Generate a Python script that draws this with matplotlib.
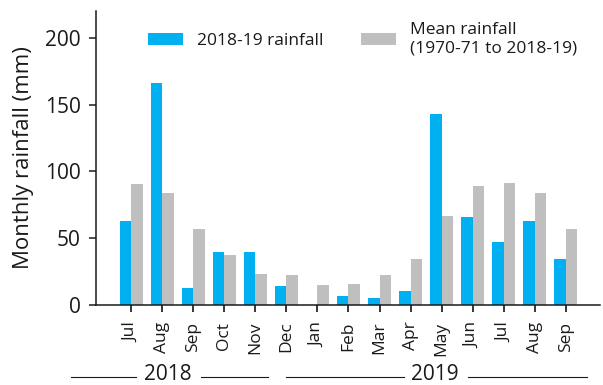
import matplotlib
matplotlib.use('Agg')
import matplotlib.pyplot as plt
import matplotlib.transforms as mtransforms
import numpy as np

plt.rcParams['font.family'] = ['Open Sans', 'DejaVu Sans']

months = ['Jul', 'Aug', 'Sep', 'Oct', 'Nov', 'Dec', 'Jan', 'Feb', 'Mar',
          'Apr', 'May', 'Jun', 'Jul', 'Aug', 'Sep']
rain_2018_19 = [62.5, 166, 12.5, 39.5, 39.5, 14.2, 0, 7, 5.5, 10.2,
                143, 65.5, 47.5, 63.2, 34.2]
rain_mean = [90.7, 83.7, 56.7, 37.7, 23.5, 22.7, 15, 15.7, 22.7, 34.7,
             66.5, 88.7, 91, 83.7, 56.7]
years = ['2018', '2019']

blue = '#00B0F0'
grey = '#BFBFBF'
ink = '#1a1a1a'

fig = plt.figure(figsize=(6.03, 3.85), dpi=100, facecolor='w')
ax = fig.add_axes([96/603, 1-305/385, 504/603, 294/385])

x = np.arange(len(months))
w = 0.37
ax.bar(x - w/2, rain_2018_19, width=w, color=blue, label='2018-19 rainfall')
ax.bar(x + w/2, rain_mean, width=w, color=grey, label='Mean rainfall\n(1970-71 to 2018-19)')

ax.set_xlim(-1.13, 15.1)
ax.set_ylim(0, 220)
ax.set_yticks([0, 50, 100, 150, 200])
ax.set_xticks(x)
ax.set_xticklabels(months, rotation=90, fontsize=12.5, color=ink)
ax.tick_params(axis='y', labelsize=15, colors=ink, width=1.1, length=5, pad=6)
ax.tick_params(axis='x', width=1.1, length=5, pad=7)
ax.set_ylabel('Monthly rainfall (mm)', fontsize=16, color=ink, labelpad=8)

for s in ['top', 'right']:
    ax.spines[s].set_visible(False)
for s in ['left', 'bottom']:
    ax.spines[s].set_linewidth(1.1)
    ax.spines[s].set_color(ink)

ax.legend(ncol=2, frameon=False, fontsize=12.5, loc='upper left',
          bbox_to_anchor=(148/603, 1-22/385), bbox_transform=fig.transFigure,
          handlelength=2.0, handleheight=0.69, handletextpad=0.8,
          columnspacing=2.2, borderpad=0, borderaxespad=0, labelcolor=ink)

# year labels under the month ticks
trans = mtransforms.blended_transform_factory(ax.transData, fig.transFigure)
ax.text(1.19, 1-375/385, years[0], transform=trans, ha='center', va='center',
        fontsize=15, color=ink)
ax.text(9.79, 1-375/385, years[1], transform=trans, ha='center', va='center',
        fontsize=15, color=ink)
for x0, x1 in [(-1.93, 0.145), (2.25, 4.40), (4.98, 8.79), (10.85, 14.69)]:
    ax.plot([x0, x1], [1-377/385, 1-377/385], transform=trans, color=ink,
            linewidth=0.8, clip_on=False)

fig.savefig('out.png', dpi=100)
